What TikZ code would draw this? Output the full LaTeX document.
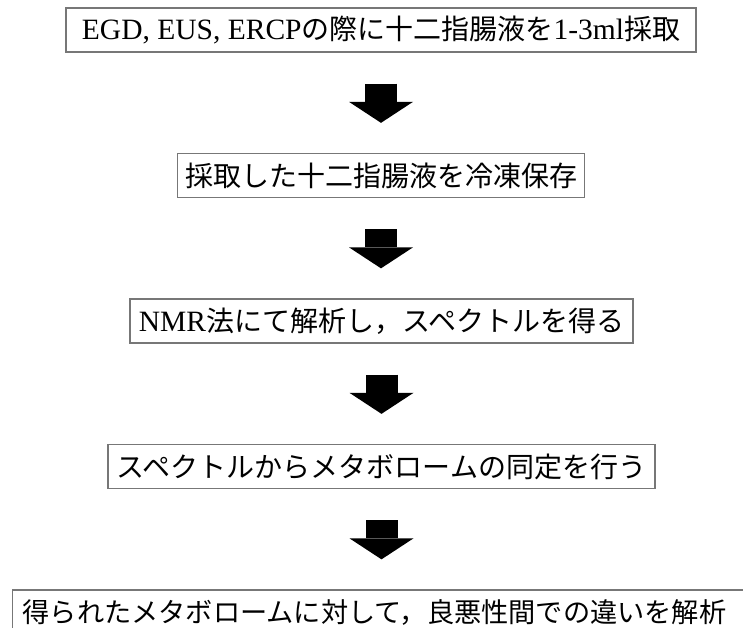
\documentclass[tikz,border=0pt]{standalone}
\usepackage{fontspec}
\setmainfont{Liberation Serif}
\newfontfamily\cjk{Noto Sans CJK JP}
\usetikzlibrary{arrows.meta}
\definecolor{boxgray}{HTML}{777777}
\newcommand{\lat}[1]{{\fontsize{29.5}{34}\selectfont #1}}
\tikzset{
  stepbox/.style={draw=boxgray, line width=1.3pt, minimum height=44pt, inner sep=0pt,
    text=black, font=\fontsize{28}{34}\selectfont},
  bigarrow/.style={line width=32pt, draw=black,
    -{Triangle[width=64pt,length=21pt,line width=0pt]},
    shorten <=31pt, shorten >=30pt}
}
\begin{document}
\begin{tikzpicture}[x=1pt,y=-1pt]
\useasboundingbox (0,0) rectangle (743,628);
\clip (0,0) rectangle (743,628);
\node[stepbox, minimum width=630pt] (b1) at (381,30) {\lat{EGD, EUS, ERCP}{\cjk の際に十二指腸液を}\lat{1-3ml}{\cjk 採取}};
\node[stepbox, minimum width=407pt] (b2) at (381,175.5) {\cjk 採取した十二指腸液を冷凍保存};
\node[stepbox, minimum width=503pt] (b3) at (381.5,321) {\lat{NMR}{\cjk 法にて解析し，スペクトルを得る}};
\node[stepbox, minimum width=547pt] (b4) at (381.5,466.5) {\cjk スペクトルからメタボロームの同定を行う};
\node[stepbox, anchor=west, text width=740pt, inner xsep=10pt, align=left,
  font=\fontsize{27.2}{34}\selectfont] (b5) at (12,612) {\cjk 得られたメタボロームに対して，良悪性間での違いを解析};
\draw[bigarrow] (b1.south) -- (b1.south |- b2.north);
\draw[bigarrow] (b2.south) -- (b2.south |- b3.north);
\draw[bigarrow] (b3.south) -- (b3.south |- b4.north);
\draw[bigarrow] (b4.south) -- (b4.south |- b5.north);
\end{tikzpicture}
\end{document}
